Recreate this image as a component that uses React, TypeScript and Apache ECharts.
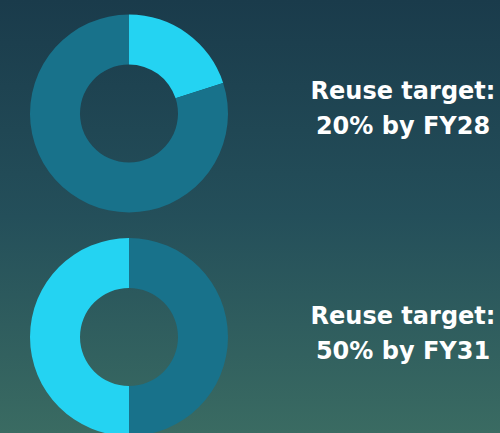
import React, { useEffect, useRef } from "react";
import * as echarts from "echarts";

const targetLabels = ["Reuse target:\n20% by FY28", "Reuse target:\n50% by FY31"];
const donut1Names = ["Reuse", "Other"];
const donut1Values = [20, 80];
const donut2Names = ["Other", "Reuse"];
const donut2Values = [50, 50];

const LIGHT = "#24d3f2";
const DARK = "#18728b";

export default function App() {
  const ref = useRef<HTMLDivElement>(null);
  useEffect(() => {
    if (!ref.current) return;
    const chart = echarts.init(ref.current, null, { renderer: "svg" });
    const mk = (names: string[], values: number[], colors: string[], cy: number) => ({
      type: "pie",
      center: [129, cy],
      radius: [49, 99],
      startAngle: 90,
      clockwise: true,
      silent: true,
      label: { show: false },
      labelLine: { show: false },
      itemStyle: { borderWidth: 0 },
      emphasis: { disabled: true },
      data: names.map((n, i) => ({ name: n, value: values[i], itemStyle: { color: colors[i] } })),
    });
    chart.setOption({
      animation: false,
      backgroundColor: new echarts.graphic.LinearGradient(0, 0, 0, 1, [
        { offset: 0, color: "#1a3b4b" },
        { offset: 0.5, color: "#244f5a" },
        { offset: 1, color: "#3a6b62" },
      ]),
      series: [
        mk(donut1Names, donut1Values, [LIGHT, DARK], 113.5),
        mk(donut2Names, donut2Values, [DARK, LIGHT], 337),
      ],
      graphic: targetLabels.map((t, i) => ({
        type: "text",
        x: 403,
        y: i === 0 ? 108 : 333,
        style: {
          text: t,
          fill: "#ffffff",
          font: "bold 24px 'DejaVu Sans', sans-serif",
          lineHeight: 35,
          align: "center",
          verticalAlign: "middle",
        },
      })),
    });
    return () => chart.dispose();
  }, []);
  return (
    <div
      ref={ref}
      style={{ position: "fixed", left: 0, top: 0, width: 500, height: 433 }}
    />
  );
}
